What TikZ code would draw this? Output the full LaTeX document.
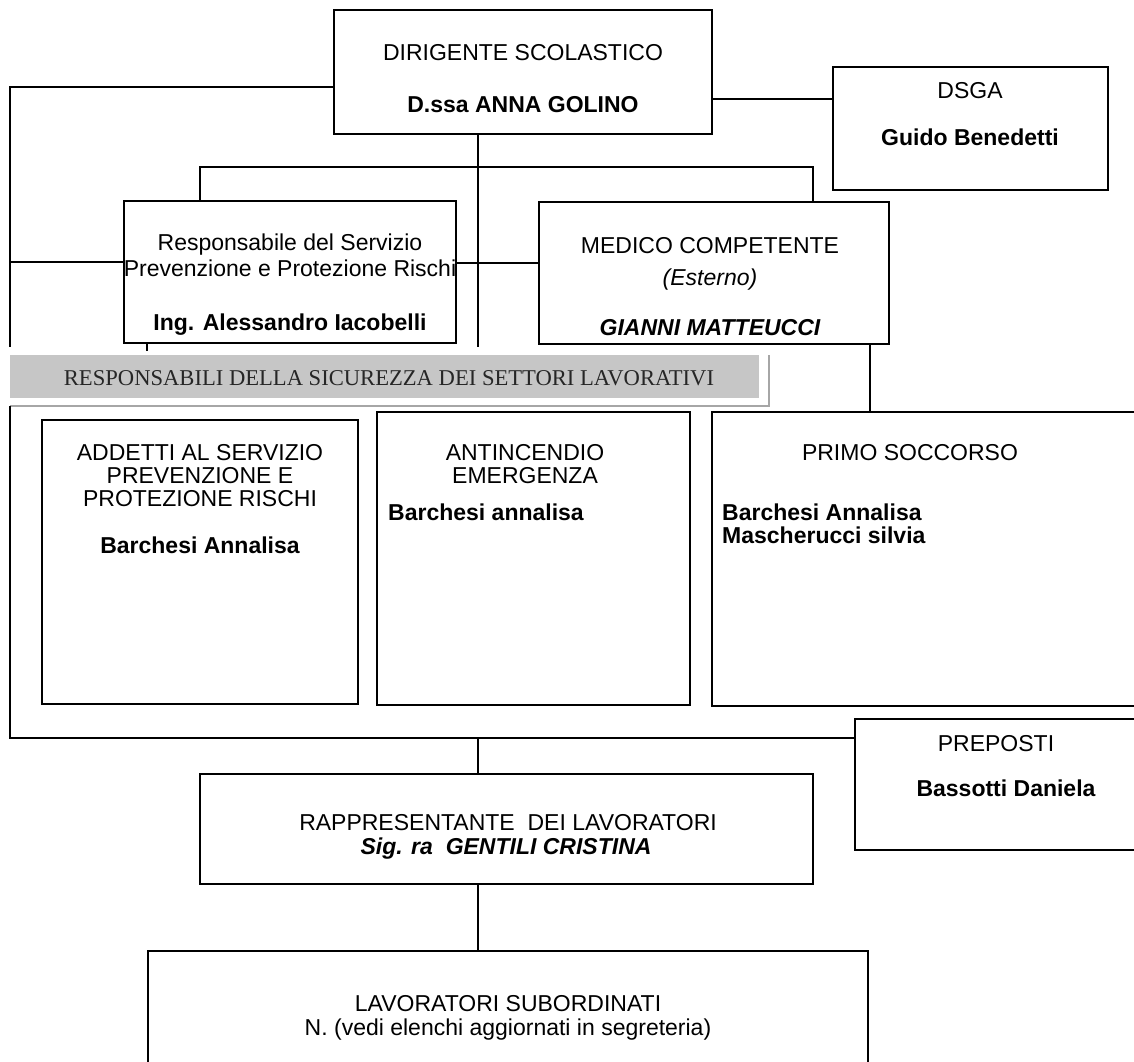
\documentclass[tikz,border=0pt]{standalone}
\usepackage{fontspec}
\setmainfont{Liberation Sans}
\newfontfamily\bannerfont{Liberation Serif}
\begin{document}
\begin{tikzpicture}[x=1pt,y=-1pt]
\tikzset{
  box/.style={draw, line width=1.4pt, rectangle, inner sep=0pt},
  conn/.style={line width=1.4pt},
  txt/.style={anchor=base, inner sep=0pt, font=\fontsize{23}{26}\selectfont},
  btxt/.style={anchor=base, inner sep=0pt, font=\fontsize{23}{26}\selectfont\bfseries},
  itxt/.style={anchor=base, inner sep=0pt, font=\fontsize{23}{26}\selectfont\itshape},
  bitxt/.style={anchor=base, inner sep=0pt, font=\fontsize{23}{26}\selectfont\bfseries\itshape},
}
\useasboundingbox (0,0) rectangle (1134,1061);
\clip (0,0) rectangle (1134,1061);
\fill[white] (0,0) rectangle (1134,1061);

% boxes
\node[box, minimum width=378pt, minimum height=124pt] (dir) at (523,72) {};
\node[box, minimum width=275pt, minimum height=123pt] (dsga) at (970.5,128.5) {};
\node[box, minimum width=332pt, minimum height=142pt] (resp) at (290,272) {};
\node[box, minimum width=350pt, minimum height=142pt] (med) at (714,273) {};
\node[box, minimum width=316pt, minimum height=284pt] (add) at (200,562) {};
\node[box, minimum width=313pt, minimum height=293pt] (anti) at (533.5,558.5) {};
\node[box, minimum width=438pt, minimum height=294pt] (primo) at (931,559) {};
\node[box, minimum width=295pt, minimum height=131pt] (prep) at (1002.5,784.5) {};
\node[box, minimum width=613pt, minimum height=110pt] (rapp) at (506.5,829) {};
\node[box, minimum width=720pt, minimum height=129pt] (lav) at (508,1015.5) {};

% banner
\node[fill=gray!45, minimum width=749pt, minimum height=43pt, inner sep=0pt] (ban) at (384.5,376.5) {};
\node[anchor=base, inner sep=0pt, font=\bannerfont\fontsize{22.6}{26}\selectfont, text=black!85] (banT) at (389,385) {RESPONSABILI DELLA SICUREZZA DEI SETTORI LAVORATIVI};
\coordinate (bl) at (10,406);
\coordinate (br) at (769,406);
\coordinate (bt) at (769,355);
\draw[gray!70, line width=1.2pt] (bl) -- (br) -- (bt);

% connectors
\coordinate (lt) at (10,87);
\coordinate (lend) at (10,347);
\draw[conn] (dir.west |- lt) -- (lt) -- (lend);
\coordinate (lm) at (10,262);
\draw[conn] (lm) -- (lm -| resp.west);
\coordinate (ds) at (770,99);
\draw[conn] (ds -| dir.east) -- (ds -| dsga.west);
\coordinate (h1) at (200,167);
\coordinate (h2) at (813,167);
\draw[conn] (h1 |- resp.north) -- (h1) -- (h2) -- (h2 |- med.north);
\coordinate (v1) at (478,347);
\draw[conn] (v1 |- dir.south) -- (v1);
\coordinate (rm) at (497,263);
\draw[conn] (rm -| resp.east) -- (rm -| med.west);
\coordinate (mp) at (870,380);
\draw[conn] (mp |- med.south) -- (mp |- primo.north);
\coordinate (tk) at (147,351);
\draw[conn] (tk |- resp.south) -- (tk);
\coordinate (lc) at (10,738);
\draw[conn] (bl) -- (lc) -- (lc -| prep.west);
\coordinate (rv) at (478,738);
\draw[conn] (rv) -- (rv |- rapp.north);
\draw[conn] (rv |- rapp.south) -- (rv |- lav.north);

% texts
\node[txt] (dirT1) at (523,60) {DIRIGENTE SCOLASTICO};
\node[btxt] (dirT2) at (523,112) {D.ssa ANNA GOLINO};
\node[txt] (dsgaT1) at (970,98) {DSGA};
\node[btxt] (dsgaT2) at (970,145) {Guido Benedetti};
\node[txt] (respT1) at (290,250) {Responsabile del Servizio};
\node[txt] (respT2) at (290,276) {Prevenzione e Protezione Rischi};
\node[btxt] (respT3) at (290,330) {Ing. Alessandro Iacobelli};
\node[txt] (medT1) at (710,253) {MEDICO COMPETENTE};
\node[itxt] (medT2) at (710,285) {(Esterno)};
\node[bitxt] (medT3) at (710,335) {GIANNI MATTEUCCI};
\node[txt] (addT1) at (200,460) {ADDETTI AL SERVIZIO};
\node[txt] (addT2) at (200,483) {PREVENZIONE E};
\node[txt] (addT3) at (200,506) {PROTEZIONE RISCHI};
\node[btxt] (addT4) at (200,553) {Barchesi Annalisa};
\node[txt] (antiT1) at (525,460) {ANTINCENDIO};
\node[txt] (antiT2) at (525,483) {EMERGENZA};
\node[btxt, anchor=base west] (antiT3) at (388,520) {Barchesi annalisa};
\node[txt] (primoT1) at (910,460) {PRIMO SOCCORSO};
\node[btxt, anchor=base west] (primoT2) at (722,520) {Barchesi Annalisa};
\node[btxt, anchor=base west] (primoT3) at (722,543) {Mascherucci silvia};
\node[txt] (prepT1) at (996,751) {PREPOSTI};
\node[btxt] (prepT2) at (1006,796) {Bassotti Daniela};
\node[txt] (rappT1) at (508,830) {RAPPRESENTANTE\ \ DEI LAVORATORI};
\node[bitxt] (rappT2) at (506,854) {Sig. ra\ \ GENTILI CRISTINA};
\node[txt] (lavT1) at (508,1011) {LAVORATORI SUBORDINATI};
\node[txt] (lavT2) at (508,1035) {N. (vedi elenchi aggiornati in segreteria)};
\end{tikzpicture}
\end{document}
